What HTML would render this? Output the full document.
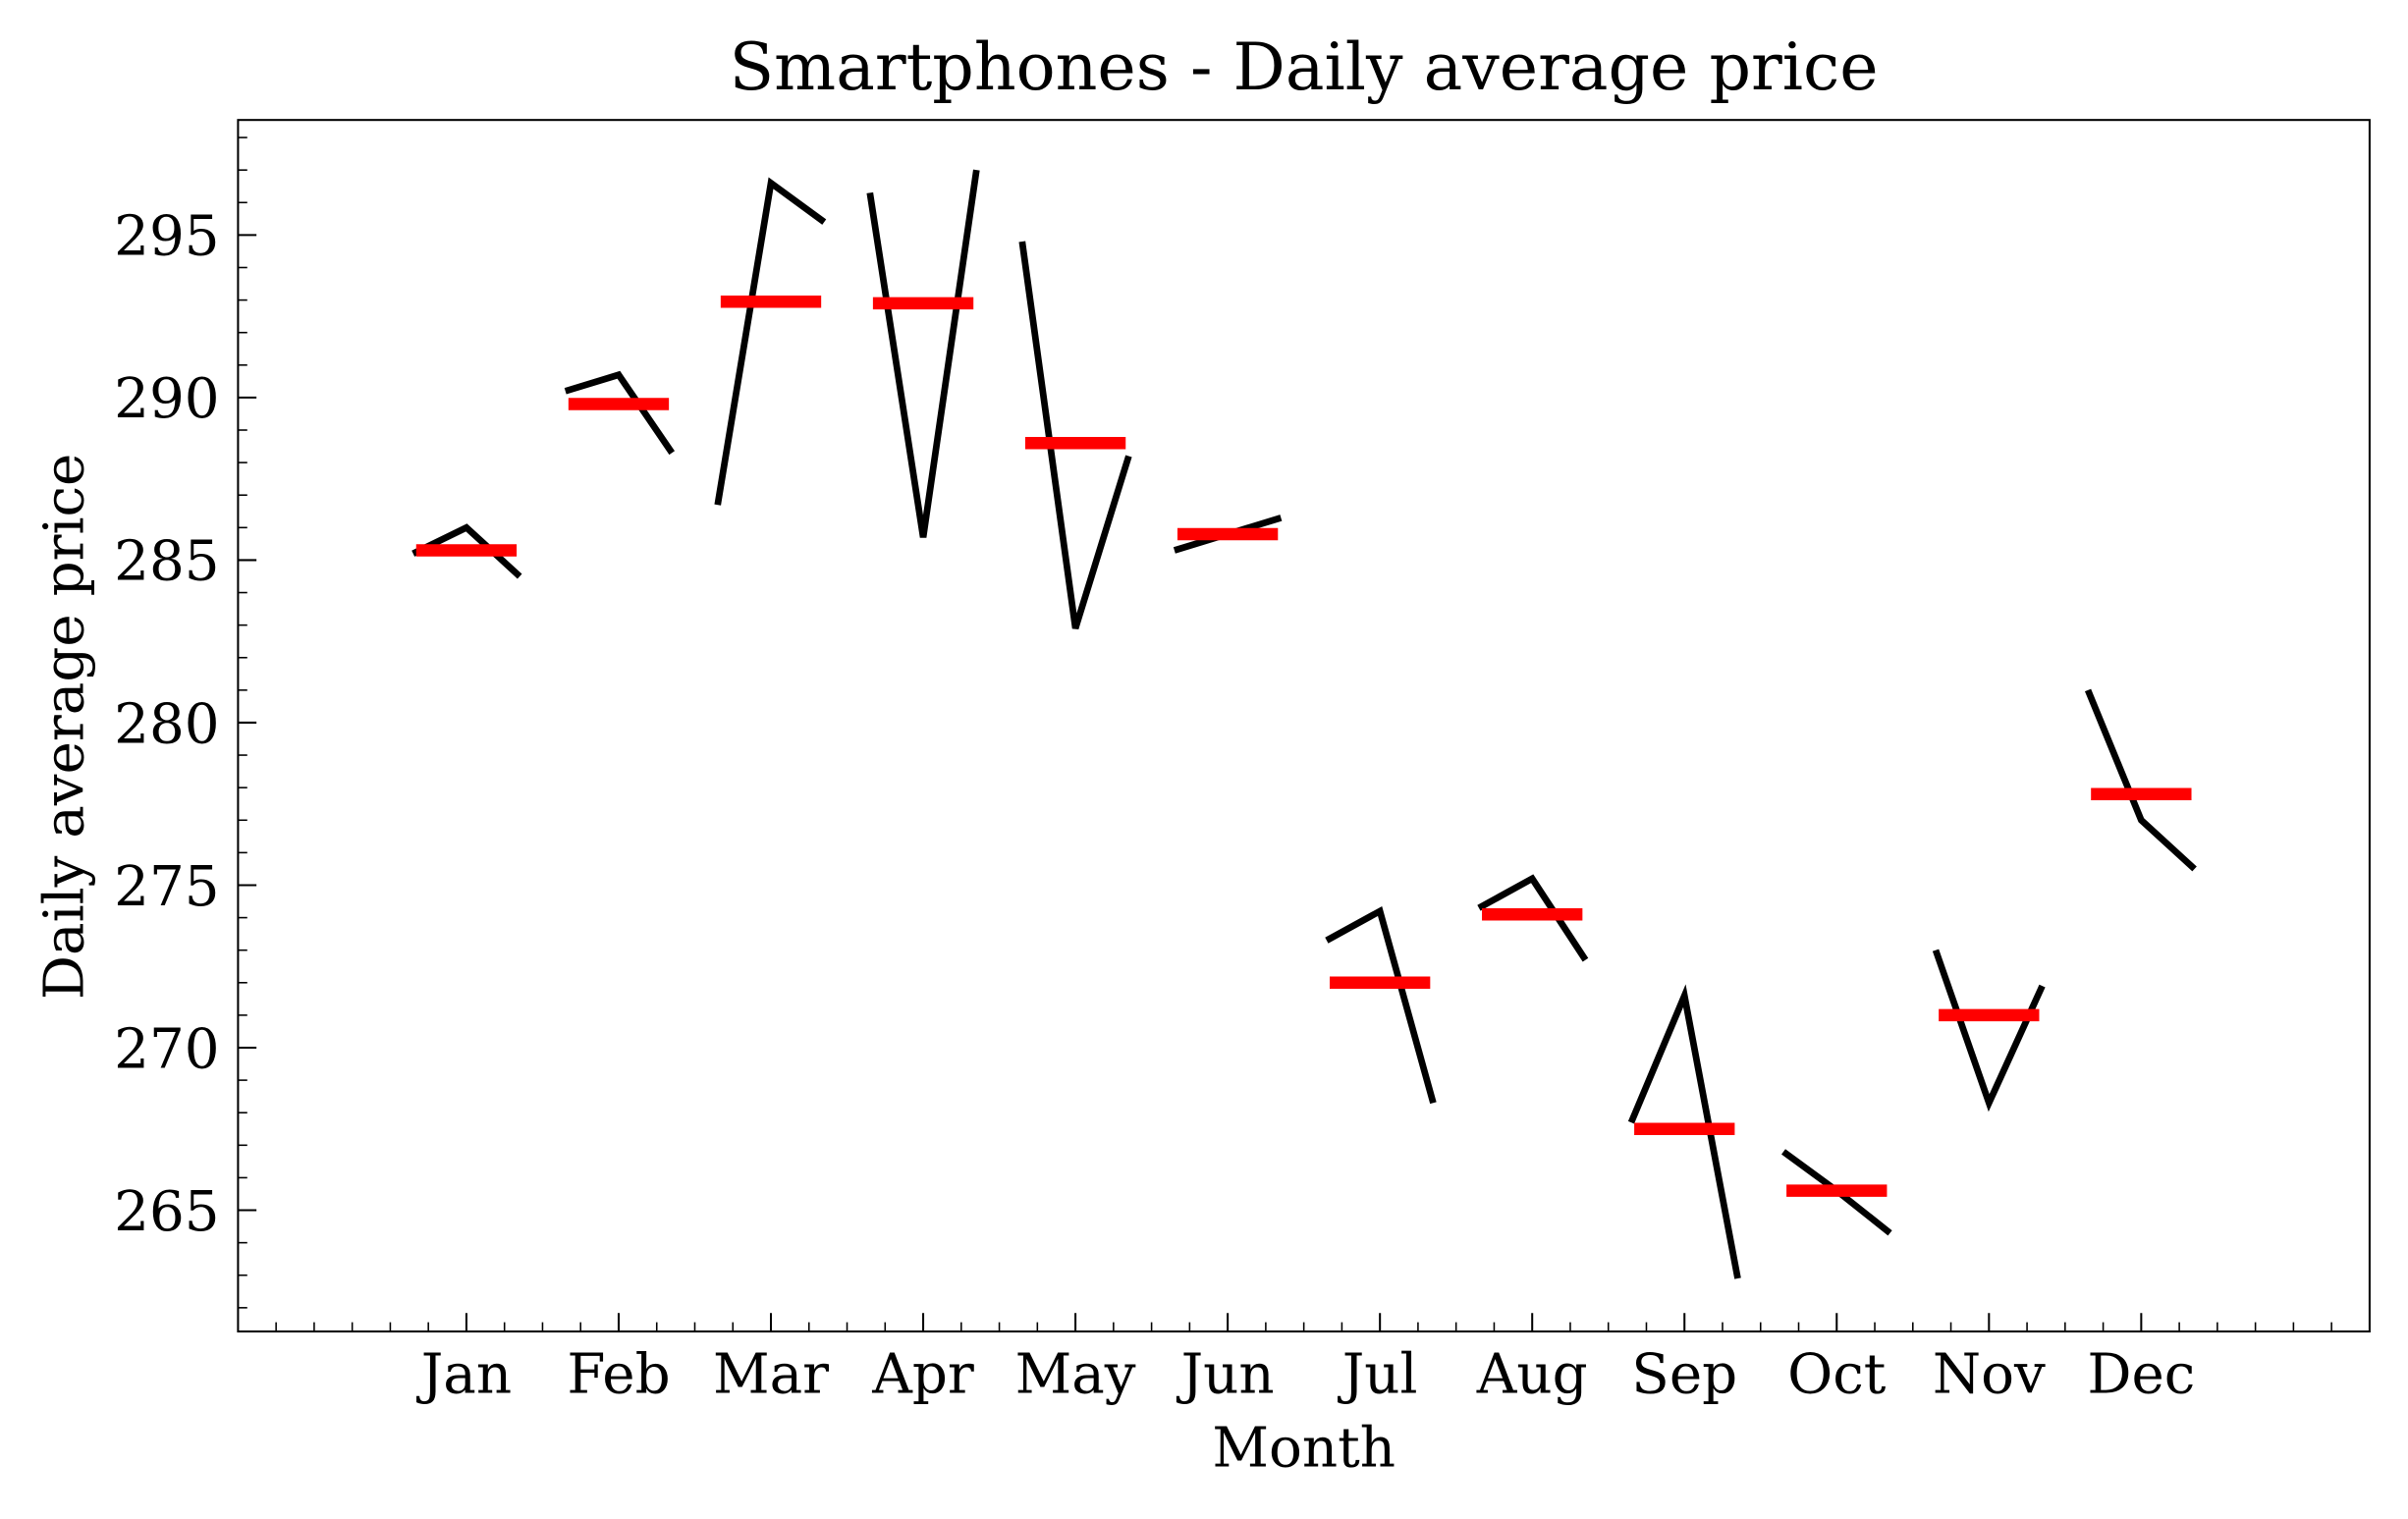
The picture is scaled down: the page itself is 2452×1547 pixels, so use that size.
<!DOCTYPE html>
<html><head><meta charset="utf-8"><style>
html,body{margin:0;padding:0;background:#fff;}
svg{display:block;font-family:"DejaVu Serif","Liberation Serif",serif;}
</style></head><body>
<svg id="chart" width="2452" height="1547" viewBox="0 0 1568 989" xmlns="http://www.w3.org/2000/svg">
<rect width="1568" height="989" fill="#fff"/>
<text x="849" y="58" font-size="42.5" text-anchor="middle">Smartphones - Daily average price</text>
<text x="849" y="955" font-size="36" text-anchor="middle">Month</text>
<text x="0" y="0" font-size="36" text-anchor="middle" transform="translate(54,473) rotate(-90)">Daily average price</text>
<g id="marks"></g>
<g id="axes"></g>
<rect x="155" y="78" width="1388" height="789" fill="none" stroke="#000" stroke-width="1.3"/>
</svg>
<script>
const months = ["Jan","Feb","Mar","Apr","May","Jun","Jul","Aug","Sep","Oct","Nov","Dec"];
const startVals = [285.2,290.2,286.7,296.3,294.8,285.3,273.3,274.3,267.7,266.8,273.0,281.0];
const midVals   = [286.0,290.7,296.6,285.7,282.9,285.8,274.2,275.2,271.6,265.6,268.3,277.0];
const endVals   = [284.5,288.3,295.4,297.0,288.2,286.3,268.3,272.7,262.9,264.3,271.9,275.5];
const meanVals  = [285.3,289.8,292.95,292.9,288.6,285.8,272.0,274.1,267.5,265.6,271.0,277.8];
const yTicks = [265,270,275,280,285,290,295];

const L=155,R=1543,T=78,B=867;
const xMin=-0.5,xMax=13.5,yMin=261.27,yMax=298.54;
const xs=m=>L+(m-xMin)/(xMax-xMin)*(R-L);
const ys=v=>B-(v-yMin)/(yMax-yMin)*(B-T);
const NS="http://www.w3.org/2000/svg";
const marks=document.getElementById('marks'), axes=document.getElementById('axes');
function mk(tag,attrs,parent){const e=document.createElementNS(NS,tag);for(const k in attrs)e.setAttribute(k,attrs[k]);parent.appendChild(e);return e;}

months.forEach((mo,i)=>{
  const m=i+1;
  const pts=[[m-0.35,startVals[i]],[m,midVals[i]],[m+0.35,endVals[i]]].map(p=>xs(p[0])+','+ys(p[1])).join(' ');
  const pl=mk('polyline',{points:pts,fill:'none',stroke:'#000','stroke-width':4.3},marks);
  
  
  const bar=mk('line',{x1:xs(m-0.33),x2:xs(m+0.33),y1:ys(meanVals[i]),y2:ys(meanVals[i]),stroke:'#ff0000','stroke-width':8},marks);
  
  
  const x=xs(m);
  mk('line',{x1:x,x2:x,y1:B,y2:B-12,stroke:'#000','stroke-width':1.3},axes);
  const t=mk('text',{x:x,y:B+40,'font-size':36,'text-anchor':'middle'},axes);
  t.textContent=mo;
  
  
});
for(let k=-0.25;k<=13.26;k+=0.25){
  if(Math.abs(k-Math.round(k))<1e-6 && k>=1 && k<=12) continue;
  const x=xs(k);
  mk('line',{x1:x,x2:x,y1:B,y2:B-6,stroke:'#000','stroke-width':1},axes);
}
for(let v=262;v<=298;v++){
  const y=ys(v);
  const major=yTicks.includes(v);
  mk('line',{x1:L,x2:L+(major?12:6),y1:y,y2:y,stroke:'#000','stroke-width':major?1.3:1},axes);
}
yTicks.forEach(v=>{
  const t=mk('text',{x:L-12,y:ys(v)+13,'font-size':36,'text-anchor':'end'},axes);
  t.textContent=v;
  
  
});
</script>
</body></html>
